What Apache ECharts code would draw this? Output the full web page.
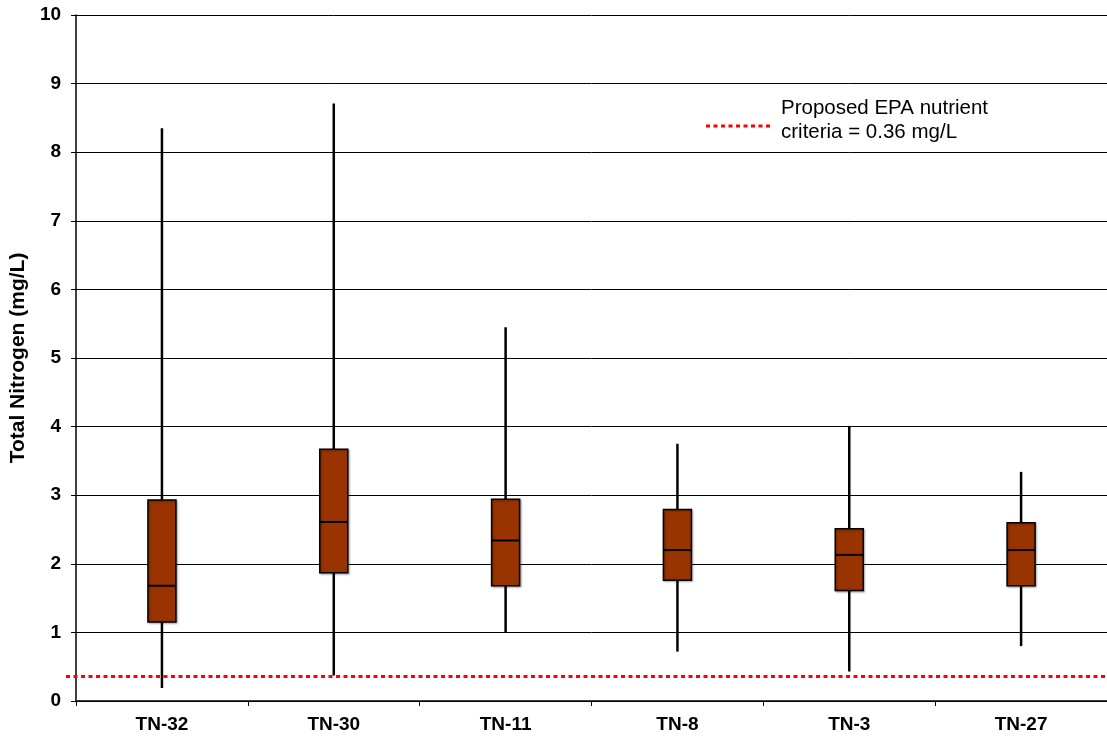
<!DOCTYPE html>
<html>
<head>
<meta charset="utf-8">
<title>Total Nitrogen by station</title>
<script src="https://cdn.jsdelivr.net/npm/echarts@6/dist/echarts.min.js"></script>
<style>
  html, body { margin: 0; padding: 0; background: #fff; }
  #chart { width: 1107px; height: 742px; }
</style>
</head>
<body>
<div id="chart"></div>
<script>
// Sampling stations along the x axis
const stations = ['TN-32', 'TN-30', 'TN-11', 'TN-8', 'TN-3', 'TN-27'];

// Box-and-whisker statistics, Total Nitrogen (mg/L)
const minimums  = [0.19, 0.37, 1.00, 0.72, 0.43, 0.80];
const quartile1 = [1.15, 1.87, 1.68, 1.76, 1.61, 1.68];
const medians   = [1.68, 2.61, 2.34, 2.20, 2.13, 2.20];
const quartile3 = [2.93, 3.67, 2.94, 2.79, 2.51, 2.60];
const maximums  = [8.35, 8.71, 5.45, 3.75, 4.01, 3.34];

// Proposed EPA nutrient criterion (mg/L)
const criterion = 0.36;

// Y axis scale
const yMin = 0;
const yMax = 10;
const yStep = 1;

const FONT = '"Liberation Sans", Arial, sans-serif';

const boxRows = stations.map((s, i) => [i, minimums[i], quartile1[i], medians[i], quartile3[i], maximums[i]]);

function renderBox(params, api) {
  const i = api.value(0);
  const pMin = api.coord([i, api.value(1)]);
  const pQ1 = api.coord([i, api.value(2)]);
  const pMed = api.coord([i, api.value(3)]);
  const pQ3 = api.coord([i, api.value(4)]);
  const pMax = api.coord([i, api.value(5)]);
  const band = api.size([1, 0])[0];
  const half = band * 0.163 / 2;
  const x = pMed[0];
  return {
    type: 'group',
    children: [
      {
        type: 'line',
        shape: { x1: x, y1: pMax[1], x2: x, y2: pMin[1] },
        style: { stroke: '#000', lineWidth: 2.5 }
      },
      {
        type: 'rect',
        shape: { x: x - half, y: pQ3[1], width: half * 2, height: pQ1[1] - pQ3[1] },
        style: {
          fill: '#993300', stroke: '#000', lineWidth: 1.5,
          shadowBlur: 2, shadowColor: 'rgba(0,0,0,0.3)', shadowOffsetX: 1, shadowOffsetY: 1
        }
      },
      {
        type: 'line',
        shape: { x1: x - half, y1: pMed[1], x2: x + half, y2: pMed[1] },
        style: { stroke: '#000', lineWidth: 2 }
      }
    ]
  };
}

const chart = echarts.init(document.getElementById('chart'), null, { renderer: 'canvas' });

chart.setOption({
  animation: false,
  backgroundColor: '#fff',
  // the plot runs slightly past the right edge of the page
  grid: { left: 76, width: 1038, top: 15, bottom: 41, containLabel: false },
  xAxis: {
    type: 'category',
    data: stations,
    boundaryGap: true,
    axisLine: { show: true, lineStyle: { color: '#000', width: 1.5 } },
    axisTick: { show: true, alignWithLabel: false, length: 5, lineStyle: { color: '#000', width: 1 } },
    axisLabel: { color: '#000', fontFamily: FONT, fontWeight: 'bold', fontSize: 19, margin: 14 },
    splitLine: { show: false }
  },
  yAxis: {
    type: 'value',
    min: yMin,
    max: yMax,
    interval: yStep,
    name: 'Total Nitrogen (mg/L)',
    nameLocation: 'middle',
    nameGap: 45,
    nameTextStyle: { color: '#000', fontFamily: FONT, fontWeight: 'bold', fontSize: 21 },
    axisLine: { show: true, lineStyle: { color: '#000', width: 1.5 } },
    axisTick: { show: true, inside: false, length: 5, lineStyle: { color: '#000', width: 1 } },
    axisLabel: { color: '#000', fontFamily: FONT, fontWeight: 'bold', fontSize: 19, margin: 15 },
    splitLine: { show: true, lineStyle: { color: '#000', width: 1 } }
  },
  series: [
    {
      name: 'Total Nitrogen',
      type: 'custom',
      renderItem: renderBox,
      data: boxRows,
      encode: { x: 0, y: [1, 2, 3, 4, 5] },
      z: 3,
      markLine: {
        silent: true,
        symbol: 'none',
        label: { show: false },
        lineStyle: { color: '#FF0000', width: 3, type: [4, 3.5] },
        // criterion line starts just left of the value axis
        data: [[{ x: 66, yAxis: criterion }, { x: 1107, yAxis: criterion }]]
      }
    }
  ],
  graphic: [
    {
      type: 'line',
      shape: { x1: 706, y1: 126, x2: 770, y2: 126 },
      style: { stroke: '#FF0000', lineWidth: 3, lineDash: [4, 3.5] }
    },
    {
      type: 'text',
      left: 781,
      top: 96,
      style: {
        text: 'Proposed EPA nutrient\ncriteria = ' + criterion + ' mg/L',
        fill: '#000',
        font: '20.5px ' + FONT,
        lineHeight: 24
      }
    }
  ]
});
</script>
</body>
</html>
